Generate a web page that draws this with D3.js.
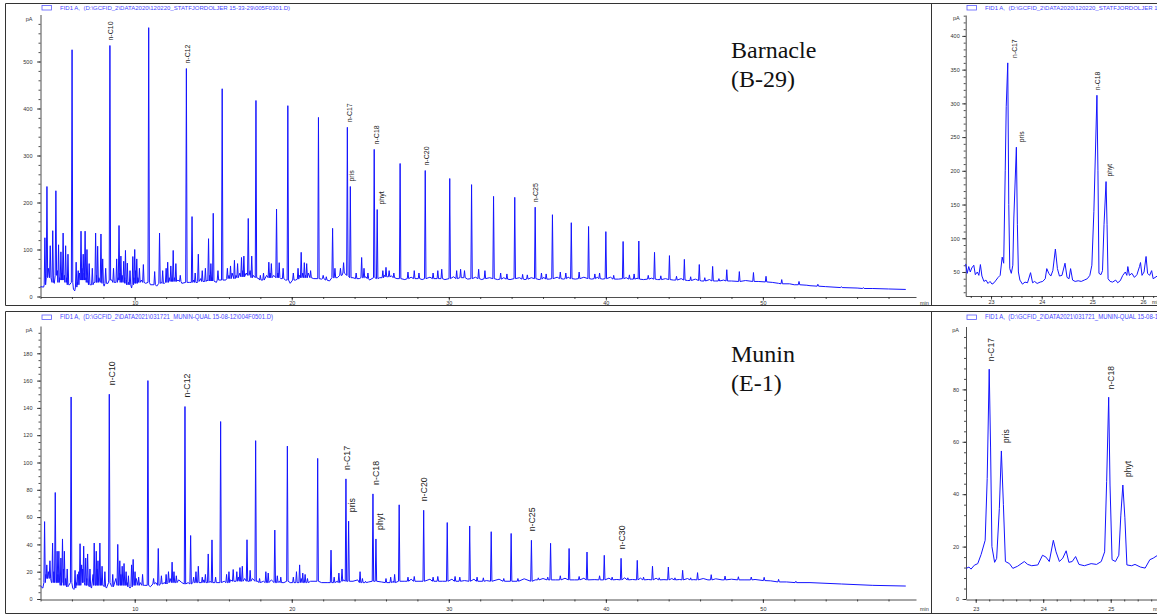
<!DOCTYPE html>
<html>
<head>
<meta charset="utf-8">
<script src="https://cdn.jsdelivr.net/npm/d3@7"></script>
<style>
  html, body { margin: 0; padding: 0; background: #fff; }
  svg { display: block; }
  text { font-family: "Liberation Sans", Arial, sans-serif; }
  text.note { font-family: "Liberation Serif", "Times New Roman", serif; }
</style>
</head>
<body>
<svg id="chart" width="1157" height="615"></svg>
<script>
// ---- data: Barnacle (B-29), full run. peaks = [time, height, local base]
const peaksB = [
  [4.41,234,40],[4.98,225,45],[6.01,525,30],[8.42,534,35],[10.89,572,30],[13.29,485,30],
  [15.57,442,35],[17.72,417,40],[19.75,406,35],[21.7,381,38],[23.54,360,45],[23.73,234,40],
  [25.25,313,40],[25.44,185,38],[26.9,283,38],[28.5,268,38],[30.06,251,38],[31.45,238,38],
  [32.85,213,38],[34.2,211,38],[35.5,190,38],[36.6,174,38],[37.8,157,38],[38.9,149,38],
  [40.0,138,38],[41.1,117,38],[42.1,118,37],[43.1,94,37],[44.05,87,36],[45.0,79,35],
  [45.95,68,34],[46.8,64,33],[47.7,57,33],[48.5,53,32],[49.4,51,32],[50.2,43,31],
  [51.2,36,27],[52.3,32,25],[53.5,26,22],[55.0,21,19],[56.4,19,17],
  // minor peaks
  [4.28,125,25],[4.62,108,40],[4.78,140,30],[5.15,110,30],[5.3,95,35],[5.44,135,35],
  [5.6,108,30],[5.75,90,25],[6.27,73,20],[6.4,55,25],[6.58,139,35],[6.72,90,35],
  [6.84,139,35],[6.96,100,30],[7.1,70,25],[7.3,60,25],[7.51,135,30],[7.64,107,30],
  [7.85,133,30],[7.96,80,28],[8.15,60,28],[8.65,60,30],[8.85,80,30],[9.0,151,35],
  [9.12,86,30],[9.3,75,30],[9.41,98,28],[9.53,71,25],[9.7,55,25],[9.88,85,25],
  [10.0,100,28],[10.13,80,28],[10.3,60,30],[10.55,68,30],
  [11.27,53,25],[11.58,135,28],[11.78,55,28],[12.0,60,30],[12.1,73,30],[12.3,65,32],
  [12.45,98,32],[12.62,70,32],[12.9,45,32],[13.65,170,30],[13.85,50,30],[14.05,90,32],
  [14.3,55,32],[14.5,60,32],[14.7,123,33],[14.85,70,33],[15.0,177,33],[15.3,55,35],
  [15.9,60,38],[16.1,65,38],[16.35,77,38],[16.55,70,40],[16.8,83,42],[16.95,86,42],
  [17.23,166,45],[17.45,86,40],[18.0,45,35],[18.2,50,35],[18.54,73,40],[18.7,70,40],
  [19.03,186,40],[19.2,72,40],[19.45,60,38],[20.1,50,35],[20.4,60,37],[20.6,94,40],
  [20.8,72,40],[20.95,70,40],[21.2,55,40],[22.0,45,38],[22.2,42,35],[22.6,145,40],
  [22.75,60,40],[23.1,60,45],[23.3,72,50],[24.1,50,38],[24.45,83,40],[24.6,60,40],
  [24.85,50,38],[25.8,55,40],[26.0,62,42],[26.2,55,42],[26.5,50,40],
  [27.4,52,38],[27.8,55,38],[28.1,50,38],[29.0,50,38],[29.3,55,38],[29.55,58,38],
  [30.5,55,38],[30.75,58,40],[31.0,55,40],[31.9,58,38],[32.3,55,38],[33.3,50,37],
  [33.7,48,37],[34.7,47,37],[35.0,46,37],[35.9,50,37],[36.2,48,37],[37.1,52,38],
  [37.45,50,38],[38.3,52,38],[39.3,48,38],[39.6,50,38],[40.5,45,37],[41.5,46,37],
  [41.8,48,37],[42.7,45,37],[43.5,44,36],[44.5,43,35],[45.4,42,34],[46.3,40,33],
  [47.2,38,33]
];
const baseB = [
  [4.0,21],[4.2,20],[4.5,60],[4.7,35],[4.88,28],[5.08,55],[5.22,40],[5.36,50],[5.52,45],
  [5.68,40],[5.85,25],[6.1,15],[6.18,12],[6.34,30],[6.48,50],[6.64,60],[6.78,50],[6.9,40],
  [7.03,32],[7.2,25],[7.4,30],[7.57,45],[7.72,40],[8.05,22],[8.3,28],[8.55,35],[8.75,30],
  [8.95,40],[9.06,50],[9.2,45],[9.36,40],[9.47,35],[9.6,30],[9.8,18],[9.95,40],[10.06,55],
  [10.2,40],[10.42,35],[10.7,28],[11.0,25],[11.4,22],[11.7,30],[11.9,28],[12.2,40],
  [12.53,40],[12.75,35],[13.0,28],[13.5,30],[13.75,35],[14.0,30],[14.2,38],[14.6,35],
  [14.78,45],[14.93,40],[15.2,30],[15.8,35],[16.0,45],[16.2,50],[16.45,45],[16.7,50],
  [16.88,55],[17.1,50],[17.35,55],[17.55,45],[17.9,38],[18.4,45],[18.62,50],[18.85,45],
  [19.12,50],[19.3,38],[19.6,35],[19.9,28],[20.25,35],[20.5,45],[20.7,50],[20.88,45],
  [21.05,50],[21.4,38],[21.9,37],[22.4,33],[22.9,40],[23.2,45],[23.9,40],[24.3,38],
  [24.72,42],[24.95,35],[25.6,40],[25.9,45],[26.1,42],[26.35,44],[26.7,38],
  [27.2,36],[27.6,41],[28.3,36],[28.8,41],[29.75,36],[30.3,42],[31.2,37],[31.7,41],
  [32.1,36],[32.6,40],[33.1,36],[33.5,40],[33.9,36],[34.5,40],[34.85,36],[35.25,40],
  [35.75,36],[36.05,41],[36.4,37],[36.9,41],[37.3,37],[37.6,41],[38.05,37],[38.6,41],
  [39.1,37],[39.45,41],[39.8,37],[40.3,41],[40.8,37],[41.3,40],[41.65,37],[42.0,39],
  [42.4,36],[42.9,39],[43.3,36],[43.8,38],[44.3,35],[44.8,38],[45.2,34],[45.7,37],
  [46.1,33],[46.6,36],[47.0,33],[47.5,35],[48,33],[48.9,34],[49.7,32],[50.6,30],[51,28],
  [51.7,27],[52,25],[52.8,24],[53,23],[54,21],[55,19],[56,18],[57,17],[58,16],[59.1,15]
];
// Barnacle zoom 22.5 - 26.4 min, trace points [time, pA]
const zoomB = [
  [22.50,62],[22.53,48],[22.56,58],[22.59,50],[22.62,56],[22.66,60],[22.69,46],[22.73,50],
  [22.76,45],[22.79,61],[22.82,44],[22.86,36],[22.9,38],[22.94,33],[22.98,36],[23.02,32],
  [23.06,34],[23.1,38],[23.14,42],[23.18,45],[23.22,72],[23.25,63],[23.28,200],[23.30,295],
  [23.33,360],[23.35,150],[23.37,55],[23.4,48],[23.43,60],[23.45,130],[23.5,235],[23.52,120],
  [23.54,50],[23.57,38],[23.62,32],[23.67,35],[23.72,34],[23.78,49],[23.82,34],[23.86,36],
  [23.91,33],[23.97,35],[24.02,36],[24.07,40],[24.1,55],[24.14,48],[24.18,44],[24.22,52],
  [24.27,84],[24.31,55],[24.35,44],[24.4,45],[24.46,63],[24.5,42],[24.54,40],[24.57,55],
  [24.61,38],[24.66,36],[24.72,37],[24.78,36],[24.84,38],[24.9,40],[24.95,45],[24.99,60],
  [25.03,140],[25.09,312],[25.11,200],[25.13,48],[25.17,46],[25.2,52],[25.23,120],[25.27,184],
  [25.29,120],[25.31,40],[25.35,36],[25.4,35],[25.46,38],[25.5,34],[25.55,37],[25.6,45],
  [25.65,50],[25.68,45],[25.7,58],[25.73,45],[25.78,48],[25.83,42],[25.88,46],[25.93,58],
  [25.95,64],[25.98,45],[26.02,50],[26.06,73],[26.09,48],[26.13,45],[26.17,52],[26.2,40],
  [26.3,45],[26.4,42]
];

// ---- data: Munin (E-1), full run
const peaksM = [
  [5.95,148,12],[8.38,150,12],[10.84,160,10],[13.2,141,11],[15.47,130,12],[17.7,116,13],
  [19.72,112,13],[21.65,103,13],[23.45,88,13],[23.62,57,13],[25.17,77,13],[25.36,44,13],
  [26.84,69,13],[28.4,65,13],[29.9,56,13],[31.33,53.5,13],[32.7,49.3,13],[33.97,48,13],
  [35.26,43,13],[36.48,40.8,14],[37.66,37,14],[38.8,34.4,14],[39.9,32,14],[40.97,29.8,14],
  [42.0,28.3,14],[42.97,24,14],[43.98,23.4,14],[44.89,21,14],[45.84,19.3,14],[46.71,17.8,14],
  [47.59,16.8,14],[48.44,16.3,14],[49.26,16.1,14],[50.08,15.9,13.5],[51.0,14.4,12.5],[52.1,13,12],
  // minor peaks
  [4.26,56.7,12],[4.4,25,15],[4.6,28,15],[4.77,41,12],[4.94,78,12],[5.06,35,12],[5.17,35,12],
  [5.3,30,10],[5.4,44,12],[5.52,35,10],[5.7,22,9],[6.2,21,8],[6.35,18,10],[6.52,40.5,10],
  [6.62,25,12],[6.75,38.7,12],[6.88,30,10],[7.0,33,10],[7.15,22,9],[7.42,41,10],[7.55,35,10],
  [7.66,28,10],[7.78,41,10],[7.92,24,10],[8.1,20,9],[8.6,18,9],[8.92,40,10],[9.05,28,10],
  [9.2,24,10],[9.32,26,10],[9.45,20,10],[9.6,17,9],[9.8,25,9],[9.9,29,10],[10.02,20,10],
  [10.25,16,10],[10.5,18,10],[11.2,15,11],[11.5,37,10],[11.7,17,11],[12.0,18,11],[12.15,20,12],
  [12.38,27,12],[12.5,20,12],[12.65,17,12],[13.56,46.5,11],[13.75,16,12],[13.9,20,12],
  [14.05,24,12],[14.3,16,12],[14.5,18,12],[14.68,33,12],[14.92,43.3,12],[15.15,16,12],
  [15.85,18,12],[16.0,20,12],[16.27,21.6,13],[16.5,20,13],[16.7,23,13],[16.85,24,13],
  [17.15,43.4,13],[17.35,21,13],[17.95,15,12],[18.35,20,12],[18.5,19,12],[18.92,50.5,12],
  [19.08,17,12],[19.3,16,12],[20.1,16,12],[20.3,20,12],[20.5,25,12],[20.7,19,12],[20.85,18,12],
  [21.0,15,12],[22.5,35.8,12],[22.7,16,12],[23.0,19,12],[23.2,22,13],[24.35,20,12],[24.5,15,12],
  [24.7,13,12],[26.0,15,12],[26.3,16,12],[26.55,18,12],
  [27.4,16,13],[27.8,16.5,13],[29.0,16,13],[29.3,16.5,13],[30.4,16.5,13],[30.7,16,13],
  [31.8,16,13],[32.2,15.5,13],[33.5,15,13],[34.4,15,13],[35.7,15.5,14],[36.3,16,14],
  [37.1,17,14],[38.3,16.5,14],[39.6,17,14],[40.4,16,14],[41.4,15.5,14],[42.4,16,14],
  [43.4,15.5,14],[44.4,15.5,14],[45.4,15.5,14]
];
const baseM = [
  [4.0,9.5],[4.15,8],[4.35,18],[4.5,20],[4.7,12],[4.85,20],[5.11,18],[5.24,12],[5.46,22],
  [5.6,15],[5.8,10],[6.05,8],[6.13,7],[6.28,12],[6.44,20],[6.69,22],[6.95,15],[7.08,10],
  [7.25,8],[7.35,18],[7.6,22],[7.85,15],[8.0,10],[8.2,8],[8.5,10],[8.8,15],[9.12,18],
  [9.52,12],[9.7,8],[10.1,15],[10.35,12],[10.6,10],[11.0,9],[11.35,12],[11.9,12],[12.25,15],
  [12.8,14],[13.0,12],[13.4,12],[14.0,12],[14.4,14],[14.8,13],[15.3,12],[15.7,13],[16.1,14],
  [16.6,16],[17.0,15],[17.5,15],[17.85,13],[18.2,13],[18.7,14],[19.2,13],[19.5,12],[19.9,12],
  [20.6,15],[21.2,13],[21.9,12],[22.3,12],[22.9,13],[23.3,14],[23.9,13],[24.2,14],[24.9,12.5],
  [25.7,12.5],[26.5,13],
  [27.2,13],[27.6,14.5],[28.1,13],[28.8,14.5],[29.6,13],[30.2,14.5],[31.0,13.5],[31.6,14.5],
  [32.4,13.5],[33.2,14.5],[34.0,13.5],[34.8,14.8],[35.5,14],[36.0,15],[36.8,14],[37.4,15.2],
  [38.0,14],[38.6,15.2],[39.3,14.2],[40.2,15.3],[40.7,14.3],[41.2,15.5],[41.7,14.3],[42.2,15.3],
  [42.7,14.3],[43.2,15.2],[43.7,14.2],[44.2,15],[44.7,14.3],[45.2,15],[45.6,14.2],[46.2,15],
  [46.5,14],[47.0,14.8],[47.4,14],[48.0,14.5],[48.8,14],[49.5,14.3],[50.5,13.3],[51.5,12.5],
  [53,12],[55,11],[57,10],[59.1,9.5]
];
// Munin zoom 22.86 - 25.7 min
const zoomM = [
  [22.86,11.7],[22.9,12.2],[22.93,11.4],[22.98,12.9],[23.03,13.5],[23.08,17],[23.14,22.4],
  [23.17,46],[23.2,87.7],[23.22,58],[23.24,20],[23.28,14],[23.31,15.5],[23.35,34.5],
  [23.38,56.5],[23.41,36],[23.44,14.3],[23.5,13.5],[23.55,11.7],[23.62,12.5],[23.72,14.3],
  [23.77,13.2],[23.83,12.7],[23.92,13],[23.99,16.7],[24.04,16],[24.09,14.3],[24.15,22.4],
  [24.19,18],[24.24,14.3],[24.29,15.6],[24.34,18.4],[24.38,14],[24.43,14.3],[24.48,16.2],
  [24.53,13.2],[24.61,12.7],[24.71,13.5],[24.79,13.2],[24.86,14.3],[24.91,18],[24.94,44.8],
  [24.97,77],[24.99,43.5],[25.02,15],[25.07,14.3],[25.12,16.7],[25.15,32],[25.18,43.5],
  [25.21,31],[25.24,13],[25.31,12.7],[25.36,13.2],[25.44,12.2],[25.51,11.8],[25.58,15],
  [25.63,15.6],[25.69,16.6]
];

// ---- peak names [label, time, peak height]
const labelsB  = [["n-C10",8.48,534],["n-C12",13.35,485],["n-C17",23.67,360],["pris",23.8,234],
                  ["n-C18",25.38,313],["phyt",25.7,185],["n-C20",28.6,268],["n-C25",35.5,190]];
const labelsBz = [["n-C17",23.47,360],["pris",23.61,235],["n-C18",25.11,312],["phyt",25.34,184]];
const labelsM  = [["n-C10",8.54,150],["n-C12",13.34,141],["n-C17",23.54,88],["pris",23.8,57],
                  ["n-C18",25.38,77],["phyt",25.61,44],["n-C20",28.42,65],["n-C25",35.32,43],
                  ["n-C30",41.03,29.8]];
const labelsMz = [["n-C17",23.23,87.7],["pris",23.45,56.5],["n-C18",25.0,77],["phyt",25.26,43.5]];

// ---- tick labels
const xTicksMain = [10, 20, 30, 40, 50];
const yTicksB    = [0, 100, 200, 300, 400, 500];
const yTicksBz   = [50, 100, 150, 200, 250, 300, 350, 400];
const xTicksBz   = [23, 24, 25, 26];
const yTicksM    = [0, 20, 40, 60, 80, 100, 120, 140, 160, 180];
const yTicksMz   = [0, 20, 40, 60, 80];
const xTicksMz   = [23, 24, 25];

const hdrB = "FID1 A,  (D:\\GCFID_2\\DATA2020\\120220_STATFJORDOLJER 15-33-29\\005F0301.D)";
const hdrM = "FID1 A,  (D:\\GCFID_2\\DATA2021\\031721_MUNIN-QUAL 15-08-12\\004F0501.D)";

const svg = d3.select("#chart");
const BLUE = "#1414ff";

// merge peaks (with flanks) and baseline into one time-ordered trace
const buildTrace = (peaks, base, w) => {
    let pts = base.filter(b => !peaks.some(p => Math.abs(p[0] - b[0]) <= w));
    peaks.forEach(([t, h, b]) => { pts.push([t - w, b], [t, h], [t + w, b]); });
    return pts.sort((a, b) => a[0] - b[0]);
}

const drawPanel = (p) => {
    svg.append("clipPath").attr("id", "clip-" + p.id)
        .append("rect").attr("x", p.clip[0]).attr("y", p.clip[1])
        .attr("width", p.clip[2]).attr("height", p.clip[3]);
    let g = svg.append("g").attr("clip-path", "url(#clip-" + p.id + ")");

    let x = d3.scaleLinear().domain(p.xDomain).range(p.xRange);
    let y = d3.scaleLinear().domain(p.yDomain).range(p.yRange);

    // header legend
    g.append("rect").attr("x", p.hdrX).attr("y", p.hdrY - 4).attr("width", 9.5).attr("height", 4.5)
        .attr("fill", "none").attr("stroke", "#5a5aff").attr("stroke-width", 0.8);
    g.append("text").attr("x", p.hdrX + 18).attr("y", p.hdrY)
        .attr("font-size", p.hdrFont).attr("fill", "#4646ff")
        .attr("textLength", p.hdrLen).attr("lengthAdjust", "spacingAndGlyphs")
        .style("white-space", "pre").text(p.hdr);

    // x axis
    g.append("g").attr("transform", "translate(0," + p.xAxisY + ")")
        .call(d3.axisBottom(x).tickValues(p.xMinor).tickSize(2).tickSizeOuter(0).tickFormat(""));
    let gx = g.append("g").attr("transform", "translate(0," + p.xAxisY + ")")
        .call(d3.axisBottom(x).tickValues(p.xTicks).tickSize(3.5).tickSizeOuter(0).tickFormat(d3.format("d")));
    gx.select(".domain").remove();
    gx.selectAll("text").attr("y", p.xLabDy).attr("dy", null)
        .attr("font-size", 5.5).attr("fill", "#333");
    g.append("text").attr("x", p.minX).attr("y", p.xAxisY + p.xLabDy)
        .attr("font-size", 5.5).attr("fill", "#333").text("min");

    // y axis
    g.append("g").attr("transform", "translate(" + p.yAxisX + ",0)")
        .call(d3.axisLeft(y).tickValues(p.yMinor).tickSize(2).tickSizeOuter(0).tickFormat(""));
    let gy = g.append("g").attr("transform", "translate(" + p.yAxisX + ",0)")
        .call(d3.axisLeft(y).tickValues(p.yTicks).tickSize(3.5).tickSizeOuter(0).tickPadding(p.yPad));
    gy.select(".domain").remove();
    gy.selectAll("text").attr("font-size", 5.5).attr("fill", "#333");
    g.selectAll(".domain, .tick line").attr("stroke", "#222").attr("stroke-width", 0.8);
    g.append("text").attr("x", p.yAxisX - p.yPad - 3.5).attr("y", p.pAY)
        .attr("text-anchor", "end").attr("font-size", 5.5).attr("fill", "#333").text("pA");

    // trace
    let line = d3.line().x(d => x(d[0])).y(d => y(d[1]));
    g.append("path").datum(p.trace)
        .attr("d", line).attr("fill", "none").attr("stroke", BLUE)
        .attr("stroke-width", p.lw).attr("stroke-linejoin", "round");

    // peak names
    g.selectAll(".pk").data(p.labels).enter().append("text").attr("class", "pk")
        .attr("transform", d => "translate(" + x(d[1]) + "," + (y(d[2]) - p.gap) + ") rotate(-90)")
        .attr("dy", "0.35em").attr("font-size", p.labFont).attr("fill", "#222")
        .text(d => d[0]);
}

const minorMain = d3.range(4, 60, 2);

drawPanel({
    id: "tl", clip: [6, 4, 925, 301],
    xDomain: [4, 59.75], xRange: [40.5, 916], yDomain: [0, 600], yRange: [296.5, 14.5],
    xAxisY: 297, yAxisX: 40.5, xTicks: xTicksMain, xMinor: minorMain, xLabDy: 8, minX: 920,
    yTicks: yTicksB, yMinor: d3.range(0, 600, 20), yPad: 4.5, pAY: 21,
    hdr: hdrB, hdrX: 42, hdrY: 9.5, hdrFont: 6, hdrLen: 230,
    trace: buildTrace(peaksB, baseB, 0.045), lw: 1,
    labels: labelsB, labFont: 7, gap: 5
});
drawPanel({
    id: "tr", clip: [932, 4, 230, 301],
    xDomain: [22.5, 26.4], xRange: [965.7, 1163.3], yDomain: [14.4, 431], yRange: [296, 15],
    xAxisY: 296, yAxisX: 965.7, xTicks: xTicksBz, xMinor: d3.range(113, 133).map(i => i / 5), xLabDy: 8, minX: 1152,
    yTicks: yTicksBz, yMinor: d3.range(20, 431, 10), yPad: 2.5, pAY: 20,
    hdr: hdrB, hdrX: 967, hdrY: 9.5, hdrFont: 6, hdrLen: 230,
    trace: zoomB, lw: 1,
    labels: labelsBz, labFont: 6.8, gap: 5
});
drawPanel({
    id: "bl", clip: [6, 312, 925, 301],
    xDomain: [4, 59.75], xRange: [40.5, 916], yDomain: [0, 200], yRange: [599, 326],
    xAxisY: 599.5, yAxisX: 40.5, xTicks: xTicksMain, xMinor: minorMain, xLabDy: 11.5, minX: 920,
    yTicks: yTicksM, yMinor: d3.range(0, 200, 5), yPad: 4.5, pAY: 332,
    hdr: hdrM, hdrX: 42, hdrY: 319, hdrFont: 7.2, hdrLen: 213,
    trace: buildTrace(peaksM, baseM, 0.045), lw: 1,
    labels: labelsM, labFont: 8.8, gap: 9
});
drawPanel({
    id: "br", clip: [932, 312, 230, 301],
    xDomain: [22.856, 25.8], xRange: [966, 1164.7], yDomain: [0, 104], yRange: [599, 326.5],
    xAxisY: 599.5, yAxisX: 966, xTicks: xTicksMz, xMinor: d3.range(115, 130).map(i => i / 5), xLabDy: 11.5, minX: 1153,
    yTicks: yTicksMz, yMinor: d3.range(0, 104, 4), yPad: 3.5, pAY: 332,
    hdr: hdrM, hdrX: 967, hdrY: 319, hdrFont: 7.2, hdrLen: 213,
    trace: zoomM, lw: 1,
    labels: labelsMz, labFont: 8.5, gap: 8
});

// sample names
const notes = svg.append("g").attr("font-size", 24).attr("fill", "#111");
[["Barnacle", 58], ["(B-29)", 86.5], ["Munin", 362], ["(E-1)", 391]].forEach(([s, yy]) => {
    notes.append("text").attr("class", "note").attr("x", 731).attr("y", yy).text(s);
});

// panel frames
const frame = svg.append("g").attr("stroke", "#333").attr("stroke-width", 1).attr("fill", "none");
[[3.5, 305.5], [311.5, 613.5]].forEach(([t, b]) => {
    frame.append("path").attr("d", "M1157," + t + "H5.5V" + b + "H1157");
    frame.append("path").attr("d", "M931.5," + t + "V" + b);
});
</script>
</body>
</html>
